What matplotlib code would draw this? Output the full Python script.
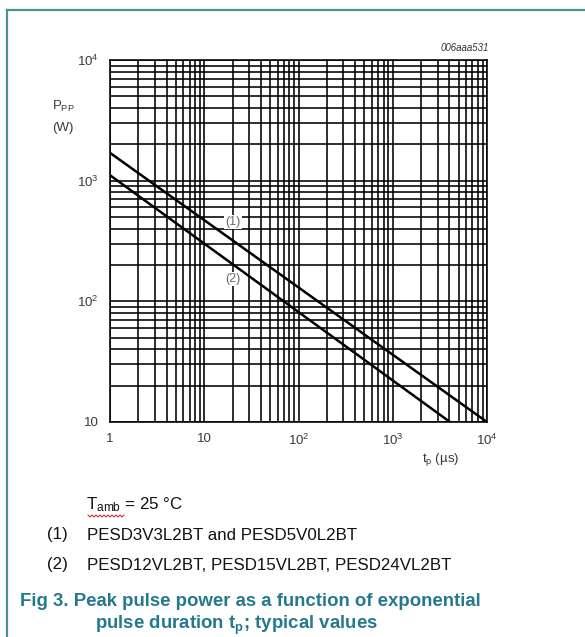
import matplotlib
matplotlib.use("Agg")
import matplotlib.pyplot as plt
import numpy as np
from matplotlib.ticker import FixedLocator, FixedFormatter, LogLocator, NullFormatter

plt.rcParams['font.family'] = ['Liberation Sans', 'DejaVu Sans']
plt.rcParams['mathtext.fontset'] = 'custom'
plt.rcParams['mathtext.rm'] = 'Liberation Sans'
plt.rcParams['mathtext.it'] = 'Liberation Sans:italic'
plt.rcParams['mathtext.bf'] = 'Liberation Sans:bold'

# data
line1_tp = [1, 1e4]
line1_ppp = [1700, 10]
line2_tp = [1, 4050]
line2_ppp = [1110, 10]
x_ticks = [1, 10, 100, 1000, 10000]
x_labels = ['1', '10', '10$^2$', '10$^3$', '10$^4$']
y_ticks = [10, 100, 1000, 10000]
y_labels = ['10', '10$^2$', '10$^3$', '10$^4$']

W, H = 585, 637
fig = plt.figure(figsize=(W / 100, H / 100), dpi=100)
fig.patch.set_facecolor('white')

ax = fig.add_axes([110 / W, 1 - 422 / H, 377 / W, 362 / H])
ax.set_xscale('log')
ax.set_yscale('log')
ax.set_xlim(1, 1e4)
ax.set_ylim(10, 1e4)

ax.xaxis.set_major_locator(FixedLocator(x_ticks))
ax.xaxis.set_major_formatter(FixedFormatter(x_labels))
ax.yaxis.set_major_locator(FixedLocator(y_ticks))
ax.yaxis.set_major_formatter(FixedFormatter(y_labels))
ax.xaxis.set_minor_locator(LogLocator(base=10, subs=np.arange(2, 10)))
ax.yaxis.set_minor_locator(LogLocator(base=10, subs=np.arange(2, 10)))
ax.xaxis.set_minor_formatter(NullFormatter())
ax.yaxis.set_minor_formatter(NullFormatter())
ax.grid(True, which='both', color='black', linewidth=1.15)
ax.tick_params(which='both', length=0)
ax.tick_params(axis='x', pad=8, labelsize=9.5, labelcolor='#3a3a3a')
ax.tick_params(axis='y', pad=8, labelsize=9.5, labelcolor='#3a3a3a')
for s in ax.spines.values():
    s.set_linewidth(1.15)
ax.set_axisbelow(True)

ax.plot(line1_tp, line1_ppp, color='black', linewidth=1.8, solid_capstyle='butt', clip_on=True, zorder=3)
ax.plot(line2_tp, line2_ppp, color='black', linewidth=1.8, solid_capstyle='butt', clip_on=True, zorder=3)

bbox = dict(facecolor='white', edgecolor='none', pad=1.0)
ax.text(20, 10 ** (1 + (422 - 222) / 120.7), '(1)', ha='center', va='center', fontsize=9,
        color='#6a6a6a', bbox=bbox, zorder=4)
ax.text(20, 10 ** (1 + (422 - 279) / 120.7), '(2)', ha='center', va='center', fontsize=9,
        color='#6a6a6a', bbox=bbox, zorder=4)

def fx(px):
    return px / W

def fy(py):
    return 1 - py / H

fig.text(fx(489), fy(48), '006aaa531', ha='right', va='center', fontsize=7, style='italic', color='#333333')
fig.text(fx(63), fy(106), 'P$_{\\mathrm{PP}}$', ha='center', va='center', fontsize=9.5, color='#3a3a3a')
fig.text(fx(63), fy(128), '(W)', ha='center', va='center', fontsize=9.5, color='#3a3a3a')
fig.text(fx(441), fy(460), 't$_{\\mathrm{p}}$ (µs)', ha='center', va='center', fontsize=9.5, color='#3a3a3a')

# notes
fig.text(fx(86), fy(505), 'T$_{\\mathrm{amb}}$ = 25 °C', ha='left', va='center', fontsize=12.2, color='#111111')
# spell-check squiggle
sx = np.linspace(88, 124, 19)
sy = 515 + np.where(np.arange(19) % 2 == 0, 0, 2)
fig.add_artist(plt.Line2D(fx(sx), fy(sy), color='#d03030', linewidth=0.8))

fig.text(fx(47), fy(535), '(1)', ha='left', va='center', fontsize=12.2, color='#111111')
fig.text(fx(87), fy(535), 'PESD3V3L2BT and PESD5V0L2BT', ha='left', va='center', fontsize=12.2, color='#111111')
fig.text(fx(47), fy(565), '(2)', ha='left', va='center', fontsize=12.2, color='#111111')
fig.text(fx(87), fy(565), 'PESD12VL2BT, PESD15VL2BT, PESD24VL2BT', ha='left', va='center', fontsize=12.2, color='#111111')

cap_color = '#24798f'
fig.text(fx(20), fy(602), 'Fig 3. Peak pulse power as a function of exponential', ha='left', va='center',
         fontsize=13.4, fontweight='bold', color=cap_color)
fig.text(fx(95), fy(625), 'pulse duration t$_{\\mathbf{p}}$; typical values', ha='left', va='center',
         fontsize=13.4, fontweight='bold', color=cap_color)

# frame
fig.add_artist(plt.Line2D([fx(7), fx(585)], [fy(10), fy(10)], color='#4a9190', linewidth=1.6))
fig.add_artist(plt.Line2D([fx(7), fx(7)], [fy(10), fy(637)], color='#4a9190', linewidth=1.6))

fig.savefig('out.png', dpi=100)
